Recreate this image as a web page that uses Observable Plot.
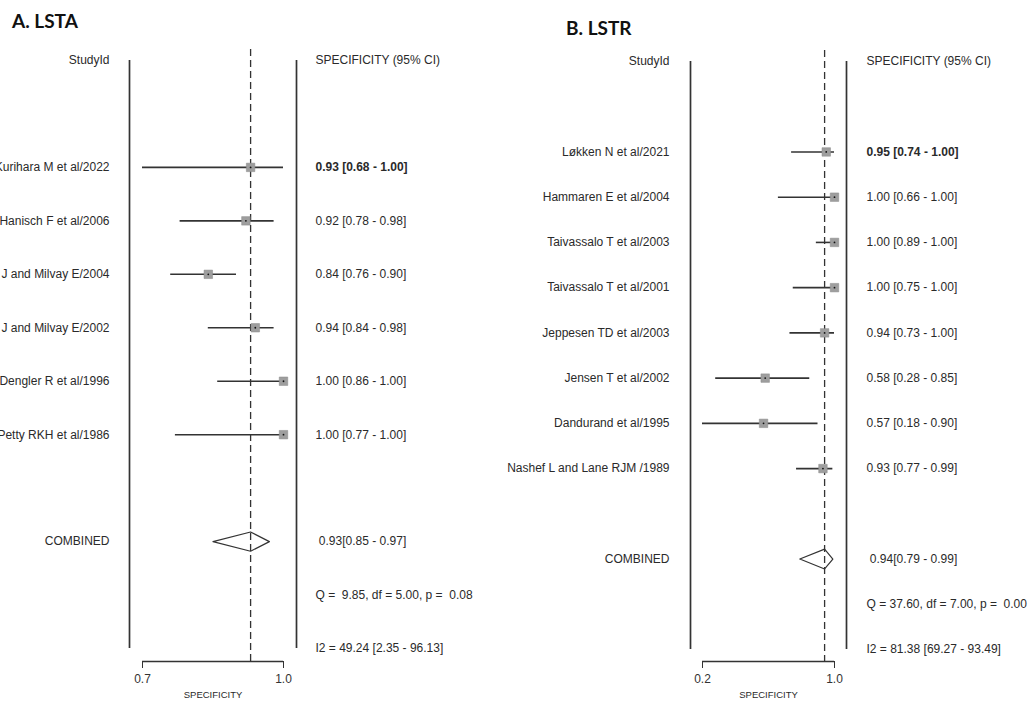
<!DOCTYPE html>
<html><head><meta charset="utf-8">
<script src="https://cdn.jsdelivr.net/npm/d3@7"></script>
<script src="https://cdn.jsdelivr.net/npm/@observablehq/plot@0.6"></script>
<style>
body{margin:0;background:#fff;}
#wrap{position:relative;width:1032px;height:702px;overflow:hidden;background:#fff;}
.panel{position:absolute;top:0;}
.title{position:absolute;font-family:Lato,"Open Sans",sans-serif;font-weight:700;font-size:19px;line-height:19px;color:#111;white-space:nowrap;}
</style></head><body>
<div id="wrap"></div>
<script>
// ---- data ----
const panelTitles = ["A. LSTA", "B. LSTR"];
const headerLeft = "StudyId";
const headerRight = "SPECIFICITY (95% CI)";
const combinedLabel = "COMBINED";
const axisLabel = "SPECIFICITY";

const lstaStudies = ["Kurihara M et al/2022", "Hanisch F et al/2006", "J and Milvay E/2004", "J and Milvay E/2002", "Dengler R et al/1996", "Petty RKH et al/1986"];
const lstaSpec = [0.93, 0.92, 0.84, 0.94, 1.00, 1.00];
const lstaLo   = [0.68, 0.78, 0.76, 0.84, 0.86, 0.77];
const lstaHi   = [1.00, 0.98, 0.90, 0.98, 1.00, 1.00];
const lstaCombined = [0.93, 0.85, 0.97]; // estimate, lower, upper
const lstaQ = [9.85, 5.00, 0.08];        // Q, df, p
const lstaI2 = [49.24, 2.35, 96.13];
const lstaDomain = [0.7, 1.0];

const lstrStudies = ["Løkken N et al/2021", "Hammaren E et al/2004", "Taivassalo T et al/2003", "Taivassalo T et al/2001", "Jeppesen TD et al/2003", "Jensen T et al/2002", "Dandurand et al/1995", "Nashef L and Lane RJM /1989"];
const lstrSpec = [0.95, 1.00, 1.00, 1.00, 0.94, 0.58, 0.57, 0.93];
const lstrLo   = [0.74, 0.66, 0.89, 0.75, 0.73, 0.28, 0.18, 0.77];
const lstrHi   = [1.00, 1.00, 1.00, 1.00, 1.00, 0.85, 0.90, 0.99];
const lstrCombined = [0.94, 0.79, 0.99];
const lstrQ = [37.60, 7.00, 0.00];
const lstrI2 = [81.38, 69.27, 93.49];
const lstrDomain = [0.2, 1.0];

// ---- drawing ----
const f2 = d3.format(".2f");
const pad5 = v => { const s = f2(v); return s.length < 5 ? " " + s : s; };
const INK = "#333";

function forest(cfg) {
  const {studies, spec, lo, hi, comb, q, i2, domain, W, xL, xR, yT, yB, gap, dHalf} = cfg;
  const H = 702, axisY = 661;
  const n = studies.length;
  const rows = studies.map((s, i) => ({study: s, spec: spec[i], lo: lo[i], hi: hi[i], row: i + 2,
    txt: `${f2(spec[i])} [${f2(lo[i])} - ${f2(hi[i])}]`}));
  const combRow = n + 3, qRow = n + 4, i2Row = n + 5;
  const diamond = [
    {x: comb[1], y: combRow}, {x: comb[0], y: combRow - dHalf},
    {x: comb[2], y: combRow}, {x: comb[0], y: combRow + dHalf}, {x: comb[1], y: combRow}
  ];
  const leftTexts = [{t: headerLeft, row: 0}, {t: combinedLabel, row: combRow}];
  const rightTexts = [
    {t: headerRight, row: 0},
    {t: " " + `${f2(comb[0])}[${f2(comb[1])} - ${f2(comb[2])}]`, row: combRow},
    {t: `Q = ${pad5(q[0])}, df = ${f2(q[1])}, p = ${pad5(q[2])}`, row: qRow},
    {t: `I2 = ${f2(i2[0])} [${f2(i2[1])} - ${f2(i2[2])}]`, row: i2Row}
  ];
  const txtStyle = {fill: "#2a2a2a", fontSize: 12};
  return Plot.plot({
    width: W, height: H,
    marginLeft: xL, marginRight: W - xR, marginTop: yT, marginBottom: H - axisY,
    x: {domain, range: [xL, xR]},
    y: {domain: [0, i2Row], range: [yT, yB], axis: null},
    style: {fontFamily: "'Liberation Sans', Arial, sans-serif", fontSize: "12px", color: INK, background: "#fff"},
    marks: [
      Plot.ruleX([domain[0]], {dx: -gap, y1: 0, y2: i2Row, stroke: INK, strokeWidth: 1.7}),
      Plot.ruleX([domain[1]], {dx: gap, y1: 0, y2: i2Row, stroke: INK, strokeWidth: 1.7}),
      Plot.ruleX([comb[0]], {stroke: INK, strokeWidth: 1.3, strokeDasharray: "7,4", insetTop: -11}),
      Plot.ruleY(rows, {y: "row", x1: "lo", x2: "hi", stroke: INK, strokeWidth: 1.6, clip: true}),
      Plot.dot(rows, {x: "spec", y: "row", symbol: "square", r: 4.8, fill: "#9e9e9e", stroke: "#8a8a8a", strokeWidth: 0.5}),
      Plot.dot(rows, {x: "spec", y: "row", r: 0.9, fill: "#111"}),
      Plot.line(diamond, {x: "x", y: "y", stroke: INK, strokeWidth: 1.2}),
      Plot.ruleY([i2Row], {x1: domain[0], x2: domain[1], dy: axisY - yB, stroke: INK, strokeWidth: 1.5}),
      Plot.axisX({ticks: domain, tickFormat: d3.format(".1f"), tickSize: 7, tickPadding: 6, label: null, fontSize: 12, stroke: INK}),
      Plot.text([axisLabel], {text: d => d, frameAnchor: "bottom", dy: 36, fontSize: 9.5, fill: "#2a2a2a"}),
      Plot.text(rows, {y: "row", text: "study", frameAnchor: "left", dx: -33, textAnchor: "end", ...txtStyle}),
      Plot.text(leftTexts, {y: "row", text: "t", frameAnchor: "left", dx: -33, textAnchor: "end", ...txtStyle}),
      Plot.text(rows.slice(0, 1), {y: "row", text: "txt", frameAnchor: "right", dx: 32, textAnchor: "start", fontWeight: "bold", ...txtStyle}),
      Plot.text(rows.slice(1), {y: "row", text: "txt", frameAnchor: "right", dx: 32, textAnchor: "start", ...txtStyle}),
      Plot.text(rightTexts, {y: "row", text: "t", frameAnchor: "right", dx: 32, textAnchor: "start", ...txtStyle})
    ]
  });
}

const wrap = document.getElementById("wrap");
const panels = [
  {left: 0, title: {x: 12, y: 11}, cfg: {studies: lstaStudies, spec: lstaSpec, lo: lstaLo, hi: lstaHi, comb: lstaCombined, q: lstaQ, i2: lstaI2,
    domain: lstaDomain, W: 500, xL: 142, xR: 283, yT: 60, yB: 648, gap: 13, dHalf: 0.18}},
  {left: 500, title: {x: 66, y: 18}, cfg: {studies: lstrStudies, spec: lstrSpec, lo: lstrLo, hi: lstrHi, comb: lstrCombined, q: lstrQ, i2: lstrI2,
    domain: lstrDomain, W: 532, xL: 202, xR: 334, yT: 61, yB: 649, gap: 12, dHalf: 0.22}}
];
panels.forEach((p, i) => {
  const div = document.createElement("div");
  div.className = "panel";
  div.style.left = p.left + "px";
  div.appendChild(forest(p.cfg));
  wrap.appendChild(div);
  const t = document.createElement("div");
  t.className = "title";
  t.style.left = (p.left + p.title.x) + "px";
  t.style.top = p.title.y + "px";
  t.textContent = panelTitles[i];
  wrap.appendChild(t);
});
</script>
</body></html>
